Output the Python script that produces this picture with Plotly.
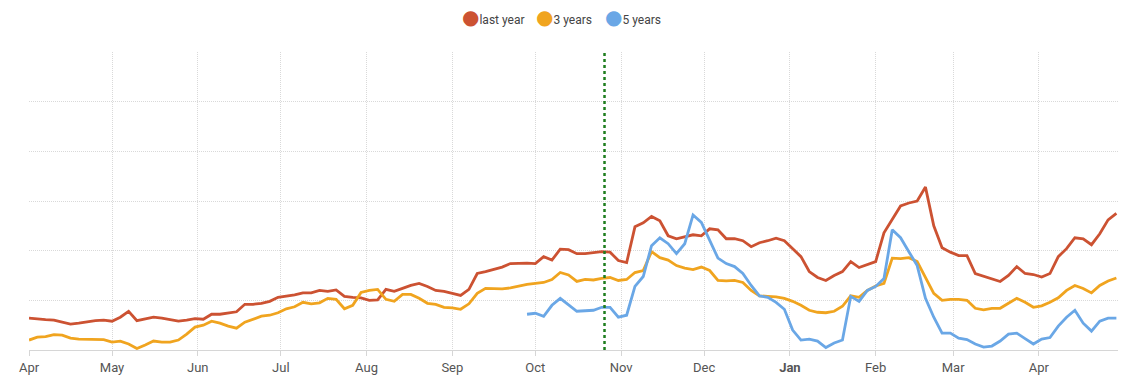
import pandas as pd
import plotly.graph_objects as go

# ---- data ----
start_date = "2022-04-01"
step = "3D"

last_year = [6.4, 6.2, 6.1, 6.0, 5.6, 5.2, 5.4, 5.7, 5.9, 6.0, 5.8, 6.6, 7.8, 5.9, 6.2, 6.6, 6.4, 6.1, 5.8, 6.0,
             6.3, 6.2, 7.2, 7.2, 7.5, 7.7, 9.2, 9.2, 9.4, 9.8, 10.6, 10.8, 11.1, 11.5, 11.5, 12.0, 11.8, 12.1, 10.8, 10.6,
             10.5, 10.0, 10.1, 12.2, 11.8, 12.4, 13.0, 13.4, 12.8, 12.0, 11.8, 11.4, 11.0, 12.2, 15.4, 15.8, 16.2, 16.7, 17.4, 17.5,
             17.5, 17.4, 18.8, 18.1, 20.3, 20.2, 19.4, 19.4, 19.6, 19.8, 19.7, 18.0, 17.6, 24.8, 25.6, 26.9, 26.0, 23.0, 22.4, 22.8,
             23.2, 23.0, 24.4, 24.2, 22.4, 22.4, 22.0, 20.8, 21.6, 22.0, 22.5, 22.0, 20.4, 18.8, 15.8, 14.6, 14.0, 15.0, 15.8, 17.8,
             16.6, 17.2, 17.8, 23.6, 26.4, 29.0, 29.6, 30.0, 32.8, 25.0, 20.6, 19.7, 19.0, 19.0, 15.4, 14.9, 14.4, 13.8, 15.0, 16.8,
             15.4, 15.2, 14.7, 15.4, 18.8, 20.4, 22.6, 22.4, 21.2, 23.4, 26.2, 27.5]

three_years = [2.0, 2.6, 2.7, 3.1, 3.0, 2.4, 2.2, 2.2, 2.1, 2.1, 1.6, 1.8, 1.2, 0.3, 1.0, 1.8, 1.6, 1.6, 2.0, 3.2,
               4.6, 5.0, 5.8, 5.4, 4.8, 4.4, 5.6, 6.2, 6.8, 7.0, 7.5, 8.3, 8.7, 9.6, 9.3, 9.5, 10.4, 10.2, 8.3, 9.0,
               11.6, 12.0, 12.2, 10.2, 9.8, 11.2, 11.2, 10.4, 9.4, 9.2, 8.6, 8.5, 8.2, 9.3, 11.4, 12.4, 12.4, 12.3, 12.5, 12.9,
               13.2, 13.4, 13.6, 14.2, 15.6, 15.1, 13.8, 14.2, 14.1, 14.4, 14.6, 14.0, 14.2, 15.6, 16.0, 19.8, 18.6, 18.1, 17.0, 16.5,
               16.2, 16.7, 16.0, 14.0, 13.9, 14.0, 13.6, 12.0, 10.9, 10.8, 10.7, 10.4, 9.8, 9.0, 8.0, 7.6, 7.5, 7.8, 8.8, 10.9,
               10.6, 12.0, 12.9, 13.4, 18.5, 18.4, 18.6, 17.8, 14.6, 11.4, 10.0, 10.2, 10.2, 10.0, 8.4, 8.1, 8.4, 8.4, 9.4, 10.4,
               9.6, 8.6, 8.9, 9.6, 10.5, 12.0, 13.0, 12.4, 11.5, 13.0, 13.9, 14.5]

five_years_first_index = 60
five_years = [7.2, 7.4, 6.8, 9.0, 10.4, 9.1, 7.8, 7.9, 8.0, 8.6, 8.6, 6.6, 7.0, 12.8, 14.8, 21.0, 22.6, 21.4, 19.4, 21.4,
              27.2, 25.7, 22.0, 18.5, 17.4, 16.8, 15.4, 13.0, 10.9, 10.6, 9.6, 8.2, 4.0, 2.0, 2.2, 1.8, 0.5, 1.4, 2.0, 10.8,
              9.8, 12.0, 12.8, 14.4, 24.2, 22.6, 19.8, 17.0, 10.4, 6.6, 3.4, 3.4, 2.4, 2.1, 1.2, 0.6, 0.8, 1.8, 3.2, 3.4,
              2.3, 1.2, 2.2, 2.5, 4.8, 6.6, 8.0, 5.4, 3.8, 5.8, 6.4, 6.4]

series_names = ["last year", "3 years", "5 years"]
series_colors = ["#cc5232", "#f0a41f", "#6aa7e6"]

tick_dates = ["2022-04-01", "2022-05-01", "2022-06-01", "2022-07-01", "2022-08-01", "2022-09-01", "2022-10-01",
              "2022-11-01", "2022-12-01", "2023-01-01", "2023-02-01", "2023-03-01", "2023-04-01"]
tick_labels = ["Apr", "May", "Jun", "Jul", "Aug", "Sep", "Oct", "Nov", "Dec", "<b>Jan</b>", "Feb", "Mar", "Apr"]

marker_date = "2022-10-26"
x_range = ["2022-04-01", "2023-04-29 14:00"]
y_range = [0, 60]

# ---- figure ----
W, H = 1140, 385
dates = pd.date_range(start_date, periods=len(last_year), freq=step)
dates_5 = dates[five_years_first_index:five_years_first_index + len(five_years)]

fig = go.Figure()
for name, xs, ys, col in [
    (series_names[0], dates, last_year, series_colors[0]),
    (series_names[1], dates, three_years, series_colors[1]),
    (series_names[2], dates_5, five_years, series_colors[2]),
]:
    fig.add_trace(go.Scatter(x=xs, y=ys, mode="lines", name=name, showlegend=False,
                             line=dict(color=col, width=2.8, shape="linear"), hoverinfo="x+y"))

# legend entries: a coloured round bullet in the entry text, one small legend per entry for exact spacing
legend_names = ["legend", "legend2", "legend3"]
legend_left_px = [422, 496, 565]
for name, col, lg in zip(series_names, series_colors, legend_names):
    label = ('<span style="font-family:DejaVu Sans;font-size:20px;color:%s">●</span>%s' % (col, name))
    fig.add_trace(go.Scatter(x=[None], y=[None], mode="markers", name=label, legend=lg,
                             marker=dict(color="rgba(0,0,0,0)", size=12, line=dict(width=0))))

fig.add_shape(type="line", xref="x", yref="paper", x0=marker_date, x1=marker_date, y0=0, y1=1,
              line=dict(color="#1e7d1e", width=2.5, dash="dot"))

legend_common = dict(orientation="h", xref="container", yref="container", xanchor="left",
                     y=1 - 19 / H, yanchor="middle", font=dict(size=12, color="#444444"),
                     itemwidth=30, bgcolor="rgba(0,0,0,0)", borderwidth=0)
legends = {lg: dict(legend_common, x=px / W) for lg, px in zip(legend_names, legend_left_px)}

grid = dict(showgrid=True, gridcolor="#d9d9d9", griddash="1px,1px", gridwidth=1)

fig.update_layout(
    width=W, height=H,
    margin=dict(l=29, r=22, t=52, b=35, autoexpand=False),
    paper_bgcolor="white", plot_bgcolor="white",
    font=dict(family="Roboto, Liberation Sans, Arial, sans-serif", color="#444444", size=12),
    showlegend=True,
    xaxis=dict(type="date", range=x_range, tickvals=tick_dates, ticktext=tick_labels,
               showline=True, linecolor="#d6d6d6", linewidth=1,
               ticks="outside", ticklen=5, tickcolor="#d6d6d6",
               tickfont=dict(size=13, color="#555555"), zeroline=False, fixedrange=True, **grid),
    yaxis=dict(range=y_range, dtick=10, showticklabels=False, zeroline=False,
               showline=False, ticks="", fixedrange=True, **grid),
    **legends,
)

fig.write_html("out.html", config={"displayModeBar": False},
               post_script="document.body.style.margin='0px';document.documentElement.style.overflow='hidden';")
